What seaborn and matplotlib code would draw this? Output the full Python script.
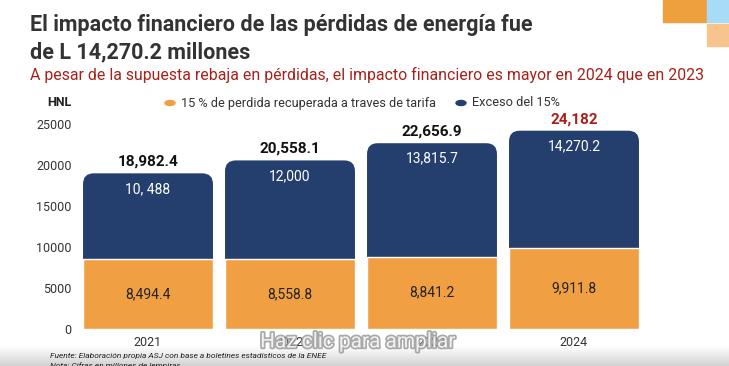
import numpy as np
import pandas as pd
import matplotlib.pyplot as plt
import seaborn as sns
from matplotlib.patches import FancyBboxPatch, Rectangle, Circle
import matplotlib.patheffects as pe

# ---------------------------------------------------------- #
#                           DATOS                            #
# ---------------------------------------------------------- #
anios = ['2021', '2022', '2023', '2024']
recuperada = [8494.4, 8558.8, 8841.2, 9911.8]
exceso = [10488, 12000, 13815.7, 14270.2]
totales = [18982.4, 20558.1, 22656.9, 24182]
etiq_recuperada = ['8,494.4', '8,558.8', '8,841.2', '9,911.8']
etiq_exceso = ['10, 488', '12,000', '13,815.7', '14,270.2']
etiq_total = ['18,982.4', '20,558.1', '22,656.9', '24,182']
yticks = [0, 5000, 10000, 15000, 20000, 25000]

df = pd.DataFrame({'anio': anios, 'recuperada': recuperada,
                   'exceso': exceso, 'total': totales})

NARANJA = '#F0A043'
AZUL = '#243F6E'
ROJO = '#A8201A'

sns.set_style('white')
plt.rcParams['font.family'] = ['Roboto', 'DejaVu Sans']

fig = plt.figure(figsize=(7.29, 3.66), dpi=100)
ax = fig.add_axes([77 / 729, 37 / 366, 568 / 729, 205 / 366])

# barras totales (azul) -> luego se redondean
sns.barplot(data=df, x='anio', y='total', color=AZUL, width=0.915,
            saturation=1, ax=ax, zorder=2)
radio = 0.075
aspecto = 25000 / 205 * 142
for p in list(ax.patches):
    x0, w, h = p.get_x(), p.get_width(), p.get_height()
    p.remove()
    ax.add_patch(FancyBboxPatch((x0, 0), w, h,
                                boxstyle=f'round,pad=0,rounding_size={radio}',
                                mutation_aspect=aspecto,
                                fc=AZUL, ec='none', zorder=2))

# barras recuperadas (naranja)
sns.barplot(data=df, x='anio', y='recuperada', color=NARANJA, width=0.915,
            saturation=1, ax=ax, zorder=3)

for i in range(len(anios)):
    ax.text(i, recuperada[i] / 2, etiq_recuperada[i], ha='center', va='center',
            fontsize=10, color='#222222', zorder=5)
    ax.text(i, totales[i] - 1900, etiq_exceso[i], ha='center', va='center',
            fontsize=10, color='white', zorder=5)
    ax.text(i, totales[i] + 1400, etiq_total[i], ha='center', va='center',
            fontsize=11, fontweight='bold',
            color=ROJO if i == 3 else '#111111', zorder=5)

ax.set_xlim(-0.5, 3.5)
ax.set_ylim(0, 25000)
ax.set_yticks(yticks)
ax.set_yticklabels([str(v) for v in yticks])
ax.tick_params(axis='both', length=0, labelsize=9, colors='#333333')
ax.tick_params(axis='y', pad=4)
ax.tick_params(axis='x', pad=5)
ax.set_xlabel('')
ax.set_ylabel('')
sns.despine(ax=ax, left=True, bottom=True)

# ---------------------------------------------------------- #
#                     TITULOS Y LEYENDA                      #
# ---------------------------------------------------------- #
fig.text(30 / 729, 1 - 25 / 366, 'El impacto financiero de las pérdidas de energía fue',
         fontweight='bold', fontsize=15.5, color='#333333', va='center')
fig.text(30 / 729, 1 - 52 / 366, 'de L 14,270.2 millones',
         fontweight='bold', fontsize=15.5, color='#333333', va='center')
fig.text(30 / 729, 1 - 75 / 366,
         'A pesar de la supuesta rebaja en pérdidas, el impacto financiero es mayor en 2024 que en 2023',
         fontsize=11.4, color=ROJO, va='center')

fig.text(47 / 729, 1 - 103 / 366, 'HNL', fontsize=9, fontweight='bold',
         color='#222222', va='center')
fig.patches.append(Circle((170 / 729, 1 - 103 / 366), 5 / 729, color=NARANJA,
                          transform=fig.transFigure, figure=fig))
fig.text(181 / 729, 1 - 103 / 366, '15 % de perdida recuperada a traves de tarifa',
         fontsize=9.2, color='#333333', va='center')
fig.patches.append(Circle((461 / 729, 1 - 103 / 366), 5 / 729, color=AZUL,
                          transform=fig.transFigure, figure=fig))
fig.text(472 / 729, 1 - 103 / 366, 'Exceso del 15%',
         fontsize=9.2, color='#333333', va='center')

# decoracion esquina
for (x, y, w, h, c) in [(663, 0, 43, 22, '#EE9F3E'), (707, 0, 22, 22, '#A8DCF6'),
                        (707, 24, 22, 22, '#F6C48C')]:
    fig.patches.append(Rectangle((x / 729, 1 - (y + h) / 366), w / 729, h / 366,
                                 color=c, transform=fig.transFigure, figure=fig))

# banda gris inferior
grad = np.linspace(1, 0.82, 50).reshape(-1, 1)
fax = fig.add_axes([0, 0, 1, 20 / 366], zorder=-1)
fax.imshow(grad, aspect='auto', cmap='gray', vmin=0, vmax=1, extent=[0, 1, 0, 1])
fax.axis('off')

fig.text(50 / 729, 1 - 356 / 366,
         'Fuente: Elaboración propia ASJ con base a boletines estadísticos de la ENEE',
         fontsize=6, style='italic', color='#222222', va='center')
fig.text(50 / 729, 1 - 366 / 366, 'Nota: Cifras en millones de lempiras',
         fontsize=6, style='italic', color='#222222', va='center')

fig.text(358 / 729, 1 - 342 / 366, 'Haz clic para ampliar', fontsize=15,
         color='white', alpha=0.85, ha='center', va='center',
         path_effects=[pe.withStroke(linewidth=2.5, foreground='#9a9a9a')])

fig.savefig('out.png', dpi=100)
